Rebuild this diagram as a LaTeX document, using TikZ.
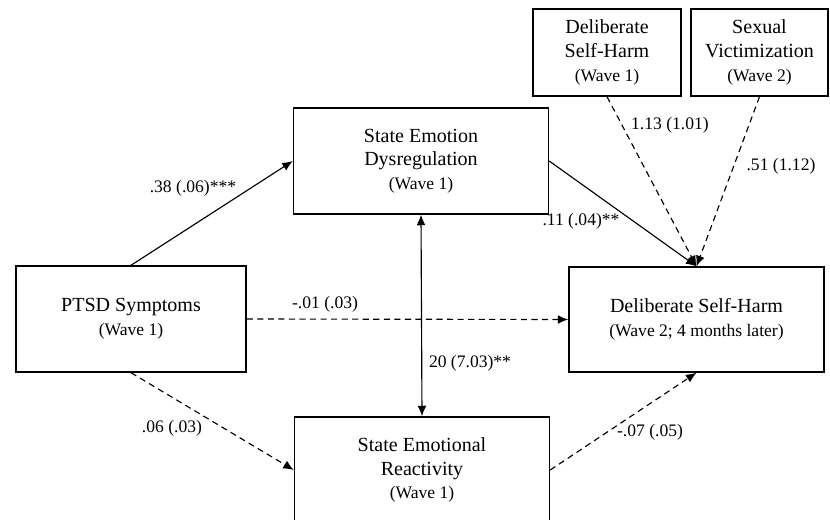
\documentclass[tikz,border=0pt]{standalone}
\usepackage{fontspec}
\setmainfont{Liberation Serif}
\usetikzlibrary{arrows.meta}

\newcommand{\wavetxt}[1]{{\fontsize{10}{12}\selectfont #1}}

\begin{document}
\begin{tikzpicture}[>={Latex[length=6pt, width=5pt]},
    box/.style = {draw, line width=0.8pt, align=center, minimum width=5.1cm, minimum height=2.12cm, font=\fontsize{11.4}{13.5}\selectfont},
    coef/.style = {font=\fontsize{10}{12}\selectfont},
    sig/.style = {->, line width=0.65pt},
    nonsig/.style = {sig, dash pattern=on 3.5pt off 2.5pt}]
            \useasboundingbox (0,0) rectangle (16.6,10.38);
            \clip (0,0) rectangle (16.6,10.38);

            \node[box, minimum width=4.6cm] at (2.62, 4.00) (P) {PTSD Symptoms\\\wavetxt{(Wave 1)}};
            \node[box] at (8.42, 7.16) (D) {State Emotion\\Dysregulation\\\wavetxt{(Wave 1)}};
            \node[box] at (8.44, 0.98) (R) {State Emotional\\Reactivity\\\wavetxt{(Wave 1)}};
            \node[box, minimum width=2.96cm, minimum height=1.74cm] at (12.14, 9.33) (H1) {Deliberate\\Self-Harm\\\wavetxt{(Wave 1)}};
            \node[box, minimum width=2.74cm, minimum height=1.74cm] at (15.19, 9.33) (V) {Sexual\\Victimization\\\wavetxt{(Wave 2)}};
            \node[box, minimum height=2.1cm] at (13.93, 3.99) (H2) {Deliberate Self-Harm\\\wavetxt{(Wave 2; 4 months later)}};

            \draw [sig] (P.north) -- (D.west);
            \draw [sig] (D.east) -- (H2.north);
            \draw [nonsig] (H1.south) -- (H2.north);
            \draw [nonsig] (V.south) -- (H2.north);
            \draw [nonsig] (P.east) -- (H2.west);
            \draw [sig, <->] (D.south) -- (R.north);
            \draw [nonsig] (P.south) -- (R.west);
            \draw [nonsig] (R.east) -- (H2.south);

            \node[coef] at (3.86, 6.62) (b1) {.38 (.06)***};
            \node[coef] at (11.62, 5.96) (b2) {.11 (.04)**};
            \node[coef] at (13.40, 7.88) (b3) {1.13 (1.01)};
            \node[coef] at (15.62, 7.06) (b4) {.51 (1.12)};
            \node[coef] at (6.50, 4.30) (b5) {-.01 (.03)};
            \node[coef] at (9.40, 3.12) (b6) {20 (7.03)**};
            \node[coef] at (3.44, 1.82) (b7) {.06 (.03)};
            \node[coef] at (13.00, 1.74) (b8) {-.07 (.05)};
            \end{tikzpicture}
\end{document}
